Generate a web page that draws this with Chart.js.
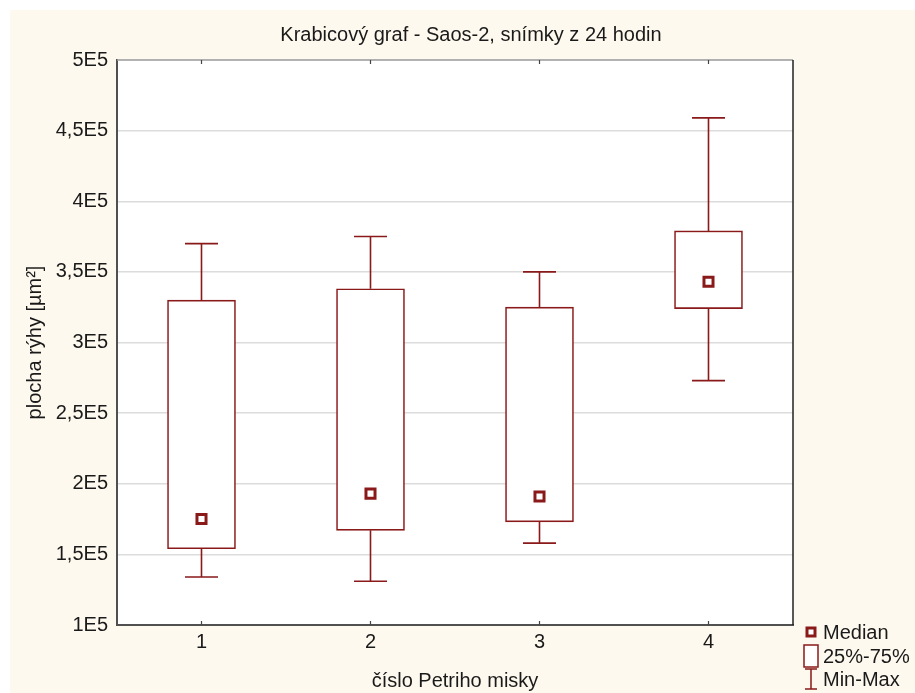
<!DOCTYPE html>
<html>
<head>
<meta charset="utf-8">
<script src="https://cdn.jsdelivr.net/npm/chart.js@4.4.1/dist/chart.umd.min.js"></script>
<style>
  html, body { margin: 0; padding: 0; background: #ffffff; }
  #wrap { width: 915px; height: 693px; }
</style>
</head>
<body>
<div id="wrap"><canvas id="c" width="915" height="693"></canvas></div>
<script>
const titleText = 'Krabicový graf - Saos-2, snímky z 24 hodin';
const xTitle = 'číslo Petriho misky';
const yTitle = 'plocha rýhy [µm²]';
const categories = ['1', '2', '3', '4'];
const mins    = [134000, 131000, 158000, 273000];
const q1s     = [154000, 167000, 173000, 324000];
const medians = [175000, 193000, 191000, 343000];
const q3s     = [330000, 338000, 325000, 379000];
const maxs    = [370000, 375000, 350000, 459000];
const legendLabels = ['Median', '25%-75%', 'Min-Max'];

const RED = '#8a1a1a';
const FONT = "'Liberation Sans', Arial, sans-serif";
const FS = 20;

const bgPlugin = {
  id: 'bg',
  beforeDraw(chart) {
    const ctx = chart.ctx, a = chart.chartArea;
    ctx.save();
    ctx.fillStyle = '#ffffff';
    ctx.fillRect(0, 0, chart.width, chart.height);
    ctx.fillStyle = '#fef9ee';
    ctx.fillRect(10, 10, chart.width - 10, chart.height - 10);
    ctx.fillStyle = '#ffffff';
    ctx.fillRect(a.left, a.top, a.right - a.left, a.bottom - a.top);
    ctx.restore();
  }
};

const whiskerPlugin = {
  id: 'whiskers',
  beforeDatasetsDraw(chart) {
    const ctx = chart.ctx, xs = chart.scales.x, ys = chart.scales.y;
    ctx.save();
    ctx.strokeStyle = RED;
    ctx.lineWidth = 1.6;
    const cap = 16.5;
    categories.forEach((c, i) => {
      const x = xs.getPixelForValue(i);
      const yMin = ys.getPixelForValue(mins[i]);
      const yMax = ys.getPixelForValue(maxs[i]);
      const yQ1 = ys.getPixelForValue(q1s[i]);
      const yQ3 = ys.getPixelForValue(q3s[i]);
      ctx.beginPath();
      ctx.moveTo(x, yQ3); ctx.lineTo(x, yMax);
      ctx.moveTo(x, yQ1); ctx.lineTo(x, yMin);
      ctx.moveTo(x - cap, yMax); ctx.lineTo(x + cap, yMax);
      ctx.moveTo(x - cap, yMin); ctx.lineTo(x + cap, yMin);
      ctx.stroke();
    });
    ctx.restore();
  },
  afterDraw(chart) {
    const ctx = chart.ctx, a = chart.chartArea, xs = chart.scales.x;
    ctx.save();
    ctx.strokeStyle = '#a0a0a0';
    ctx.lineWidth = 1.5;
    ctx.beginPath(); ctx.moveTo(a.left, a.top); ctx.lineTo(a.right, a.top); ctx.stroke();
    ctx.strokeStyle = '#222222';
    ctx.lineWidth = 1.5;
    ctx.beginPath(); ctx.moveTo(a.right, a.top); ctx.lineTo(a.right, a.bottom); ctx.stroke();
    ctx.strokeStyle = '#444444';
    ctx.lineWidth = 1.2;
    categories.forEach((c, i) => {
      const x = xs.getPixelForValue(i);
      ctx.beginPath();
      ctx.moveTo(x, a.top); ctx.lineTo(x, a.top + 4);
      ctx.moveTo(x, a.bottom); ctx.lineTo(x, a.bottom - 4);
      ctx.stroke();
    });
    ctx.fillStyle = '#1a1a1a';
    ctx.font = FS + 'px ' + FONT;
    ctx.textAlign = 'center';
    ctx.textBaseline = 'middle';
    ctx.fillText(titleText, 471, 35);
    const lx = 811, tx = 823;
    const rows = [632, 656, 679];
    ctx.font = FS + 'px ' + FONT;
    ctx.textAlign = 'left';
    ctx.fillStyle = '#1a1a1a';
    legendLabels.forEach((t, i) => ctx.fillText(t, tx, rows[i] + 1));
    ctx.strokeStyle = RED;
    ctx.lineWidth = 3;
    ctx.fillStyle = '#ffffff';
    ctx.fillRect(lx - 4, rows[0] - 4, 8, 8);
    ctx.strokeRect(lx - 4, rows[0] - 4, 8, 8);
    ctx.lineWidth = 1.5;
    ctx.fillRect(lx - 7, rows[1] - 11, 14, 22);
    ctx.strokeRect(lx - 7, rows[1] - 11, 14, 22);
    ctx.beginPath();
    ctx.moveTo(lx - 6, rows[2] - 10); ctx.lineTo(lx + 6, rows[2] - 10);
    ctx.moveTo(lx, rows[2] - 10); ctx.lineTo(lx, rows[2] + 10);
    ctx.moveTo(lx - 6, rows[2] + 10); ctx.lineTo(lx + 6, rows[2] + 10);
    ctx.stroke();
    ctx.restore();
  }
};

const boxData = categories.map((c, i) => [q1s[i], q3s[i]]);

new Chart(document.getElementById('c'), {
  data: {
    labels: categories,
    datasets: [
      {
        type: 'line',
        label: 'Median',
        data: medians,
        showLine: false,
        pointStyle: 'rect',
        pointRadius: 6.4,
        pointHoverRadius: 6.4,
        pointBorderWidth: 3,
        pointBorderColor: RED,
        pointBackgroundColor: '#ffffff',
        order: 0
      },
      {
        type: 'bar',
        label: '25%-75%',
        data: boxData,
        backgroundColor: '#ffffff',
        borderColor: RED,
        borderWidth: 1.6,
        borderSkipped: false,
        barThickness: 68,
        order: 1
      }
    ]
  },
  options: {
    responsive: false,
    animation: false,
    events: [],
    layout: { padding: { top: 60, right: 122, left: 0, bottom: 0 } },
    plugins: {
      legend: { display: false },
      title: { display: false },
      tooltip: { enabled: false }
    },
    scales: {
      x: {
        type: 'category',
        offset: true,
        grid: { display: false, drawTicks: false },
        border: { display: true, color: '#505050', width: 2 },
        ticks: { color: '#1a1a1a', font: { family: FONT, size: FS }, padding: 5 },
        title: { display: true, text: xTitle, color: '#1a1a1a', font: { family: FONT, size: FS }, padding: { top: 0, bottom: 0 } },
        afterFit(s) { s.height = 68; }
      },
      y: {
        min: 100000,
        max: 500000,
        grid: { color: '#dcdcdc', lineWidth: 1.5, drawTicks: false },
        border: { display: true, color: '#505050', width: 2 },
        ticks: {
          stepSize: 50000,
          color: '#1a1a1a',
          font: { family: FONT, size: FS },
          padding: 9,
          callback: v => String(Math.round(v / 10000) / 10).replace('.', ',') + 'E5'
        },
        title: { display: true, text: yTitle, color: '#1a1a1a', font: { family: FONT, size: FS }, padding: { top: 23, bottom: 0 } },
        afterFit(s) { s.width = 117; }
      }
    }
  },
  plugins: [bgPlugin, whiskerPlugin]
});
</script>
</body>
</html>
